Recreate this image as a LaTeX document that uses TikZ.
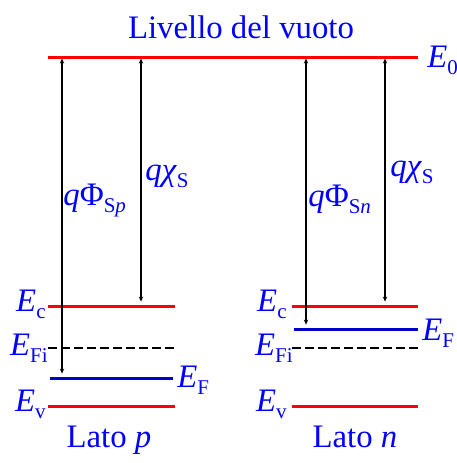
\documentclass[tikz,border=0pt]{standalone}
\usepackage{fontspec}
\setmainfont{Liberation Serif}
\usepackage{tikz}
\usetikzlibrary{arrows.meta, positioning}
\definecolor{levelcolor}{RGB}{255,0,0}
\definecolor{fermicolor}{RGB}{0,0,200}
\definecolor{textcolor}{RGB}{0,0,255}
\newcommand{\lsub}[1]{\raisebox{-0.24em}{\fontsize{10.5}{12}\selectfont #1}}

\begin{document}
\begin{tikzpicture}[x=0.5pt, y=-0.5pt,
    band/.style={levelcolor, line width=1.5pt},
    fermi/.style={fermicolor, line width=1.5pt},
    intrinsic/.style={black, line width=1.3pt, dash pattern=on 4.5pt off 2pt},
    lab/.style={text=textcolor, inner sep=0pt, font=\fontsize{16.4}{19}\selectfont},
    arrow/.style={{Stealth[length=2.5pt,width=2.2pt]}-{Stealth[length=2.5pt,width=2.2pt]}, line width=0.6pt, shorten <=0.8pt, shorten >=2.2pt}
]
\useasboundingbox (0,0) rectangle (457,463);

% vacuum level
\coordinate (E0a) at (48,57);
\coordinate (E0b) at (418,57);
\draw[band] (E0a) -- (E0b);
\node[lab] (vuoto) at (241,27) {Livello del vuoto};
\node[lab, anchor=base west] (E0) at (427,67) {\textit{E}\lsub{0}};

% p side
\coordinate (Ecpa) at (48,306);  \coordinate (Ecpb) at (175,306);
\coordinate (Eipa) at (48,348);  \coordinate (Eipb) at (175,348);
\coordinate (EFpa) at (50,378);  \coordinate (EFpb) at (173,378);
\coordinate (Evpa) at (48,406);  \coordinate (Evpb) at (175,406);
\draw[band] (Ecpa) -- (Ecpb);
\draw[intrinsic] (Eipa) -- (Eipb);
\draw[fermi] (EFpa) -- (EFpb);
\draw[band] (Evpa) -- (Evpb);
\node[lab, anchor=base east] (Ecp) at (46,311) {\textit{E}\lsub{c}};
\node[lab, anchor=base east] (Eip) at (48,355) {\textit{E}\lsub{Fi}};
\node[lab, anchor=base west] (EFp) at (177,387) {\textit{E}\lsub{F}};
\node[lab, anchor=base east] (Evp) at (46,411) {\textit{E}\lsub{v}};
\node[lab, anchor=base] (latop) at (109,447) {Lato \textit{p}};

\coordinate (phip) at (62,0);
\coordinate (chip) at (141,0);
\draw[arrow] (phip |- E0a) -- (phip |- EFpa);
\draw[arrow] (chip |- E0a) -- (chip |- Ecpa);
\node[lab, anchor=base west] (phiplab) at (63,205) {\textit{q}Φ\lsub{S\textit{p}}};
\node[lab, anchor=base west] (chiplab) at (145,180) {\textit{q}\textit{χ}\lsub{S}};

% n side
\coordinate (Ecna) at (292,306);  \coordinate (Ecnb) at (418,306);
\coordinate (EFna) at (294,329);  \coordinate (EFnb) at (418,329);
\coordinate (Eina) at (292,348);  \coordinate (Einb) at (418,348);
\coordinate (Evna) at (292,406);  \coordinate (Evnb) at (418,406);
\draw[band] (Ecna) -- (Ecnb);
\draw[fermi] (EFna) -- (EFnb);
\draw[intrinsic] (Eina) -- (Einb);
\draw[band] (Evna) -- (Evnb);
\node[lab, anchor=base east] (Ecn) at (287,311) {\textit{E}\lsub{c}};
\node[lab, anchor=base east] (Ein) at (293,355) {\textit{E}\lsub{Fi}};
\node[lab, anchor=base west] (EFn) at (422,340) {\textit{E}\lsub{F}};
\node[lab, anchor=base east] (Evn) at (287,411) {\textit{E}\lsub{v}};
\node[lab, anchor=base] (laton) at (355,447) {Lato \textit{n}};

\coordinate (phin) at (306,0);
\coordinate (chin) at (385,0);
\draw[arrow] (phin |- E0a) -- (phin |- EFna);
\draw[arrow] (chin |- E0a) -- (chin |- Ecna);
\node[lab, anchor=base west] (phinlab) at (308,206) {\textit{q}Φ\lsub{S\textit{n}}};
\node[lab, anchor=base west] (chinlab) at (390,176) {\textit{q}\textit{χ}\lsub{S}};
\end{tikzpicture}
\end{document}
